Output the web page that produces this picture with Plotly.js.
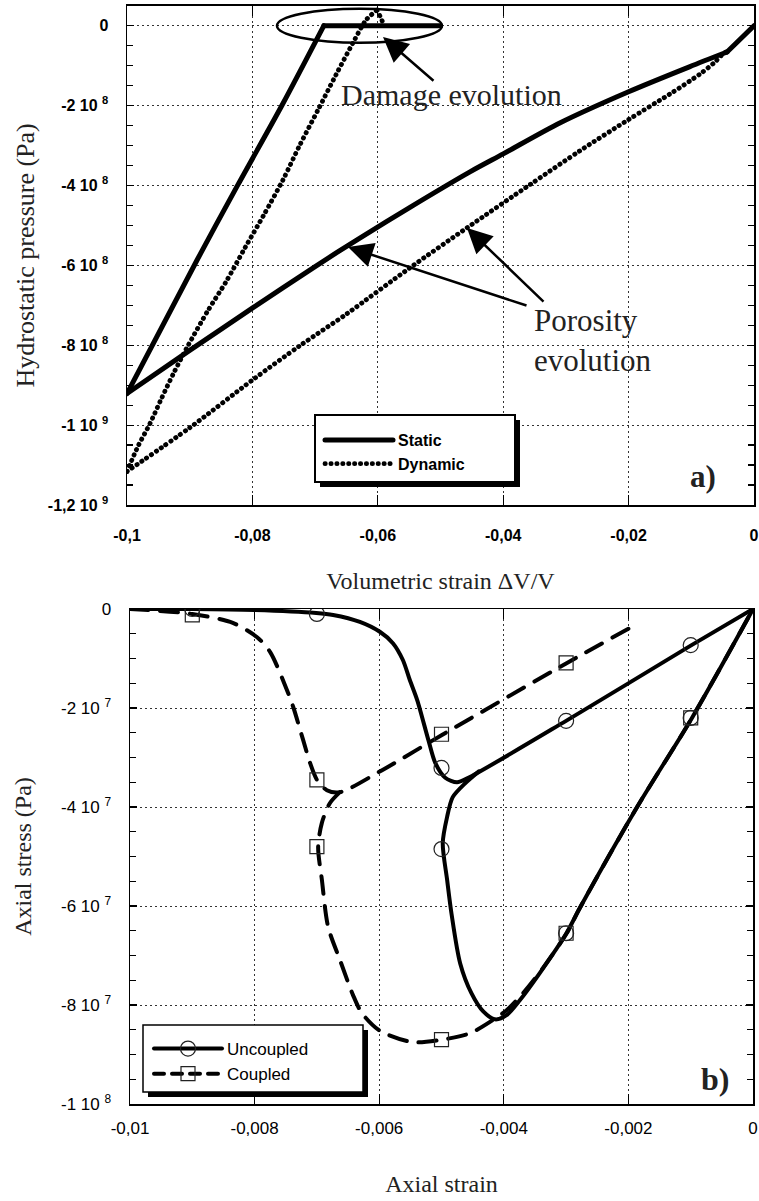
<!DOCTYPE html>
<html><head><meta charset="utf-8">
<script src="https://cdn.plot.ly/plotly-3.0.1.min.js"></script>
<style>
html,body{margin:0;padding:0;background:#fff}
path.js-line{stroke-linecap:round !important;stroke-linejoin:round !important}
</style>
</head><body><div id="chart" style="width:759px;height:1201px"></div>
<script>
// ---------- (a) hydrostatic pressure vs volumetric strain ----------
// null separates the branches of each path
const staticStrain   = [0, -0.0043, null,
                        -0.0043, -0.0103, -0.0201, -0.0309, -0.0400, -0.0453, -0.0550, -0.0628, -0.0700, -0.0799, -0.0900, -0.1000, null,
                        -0.1000, -0.0888, -0.0823, -0.0753, -0.0686, null,
                        -0.0686, -0.0500];
const staticPressure = [0, -0.66e8, null,
                        -0.66e8, -1.03e8, -1.66e8, -2.43e8, -3.21e8, -3.66e8, -4.56e8, -5.31e8, -6.03e8, -7.06e8, -8.13e8, -9.21e8, null,
                        -9.21e8, -5.86e8, -3.98e8, -2.00e8, 0, null,
                        0, 0];

const dynamicStrain   = [-0.0045, -0.00478, -0.00622, -0.00861, -0.0134, -0.0201, -0.02775, -0.03573, -0.04577, -0.05486, -0.06491, -0.07241, -0.0799, -0.08995, -0.1000, null,
                         -0.1000, -0.09825, -0.09633, -0.09458, -0.0925, -0.09027, -0.08708, -0.0842, -0.08118, -0.07815, -0.07512, -0.07241, -0.06954, -0.06667, -0.06396, -0.06188, -0.06013, null,
                         -0.06013, -0.0595, -0.0590];
const dynamicPressure = [-0.66e8, -0.68e8, -0.91e8, -1.21e8, -1.71e8, -2.36e8, -3.13e8, -3.98e8, -5.06e8, -6.06e8, -7.21e8, -8.01e8, -8.86e8, -1.006e9, -1.116e9, null,
                         -1.116e9, -1.053e9, -0.996e9, -0.936e9, -0.868e9, -0.801e9, -0.713e9, -0.641e9, -0.556e9, -0.473e9, -0.386e9, -0.298e9, -0.211e9, -0.123e9, -0.043e9, 0.014e9, 0.039e9, null,
                         0.039e9, 0.019e9, 0];

const strainTicks    = [-0.1, -0.08, -0.06, -0.04, -0.02, 0];
const strainTickText = ['-0,1', '-0,08', '-0,06', '-0,04', '-0,02', '0'];
const pressureTicks    = [0, -2e8, -4e8, -6e8, -8e8, -1e9, -1.2e9];
const pressureTickText = ['0', '-2 10 <sup>8</sup>', '-4 10 <sup>8</sup>', '-6 10 <sup>8</sup>', '-8 10 <sup>8</sup>', '-1 10 <sup>9</sup>', '-1,2 10 <sup>9</sup>'];

// ---------- (b) axial stress vs axial strain ----------
const uncoupledStrain = [-0.01, -0.009, -0.008, -0.00701, -0.00674, -0.00631, -0.00599, -0.00578, -0.00562, -0.00551, -0.00539, -0.00521, -0.0051, -0.00494, -0.00475, -0.00457, -0.003, -0.001, 0, null,
                         0, -0.00098, -0.00186, -0.00278, -0.00299, -0.00342, -0.00374, -0.00395, -0.00414, -0.00433, -0.00452, -0.0047, -0.00484, -0.00491, -0.00498, -0.00491, -0.00482, -0.00462, -0.0044];
const uncoupledStress = [0, 0, -2e5, -8e5, -1.2e6, -2.6e6, -4.6e6, -6.9e6, -1.03e7, -1.43e7, -1.84e7, -2.65e7, -3.11e7, -3.41e7, -3.5e7, -3.41e7, -2.26e7, -7.4e6, 0, null,
                         0, -2.2e7, -4.0e7, -6.04e7, -6.54e7, -7.35e7, -7.9e7, -8.2e7, -8.29e7, -8.13e7, -7.76e7, -7.16e7, -6.15e7, -5.47e7, -4.73e7, -4.2e7, -3.8e7, -3.52e7, -3.28e7];
const uncoupledMarkStrain = [-0.009, -0.007, -0.005, -0.003, -0.001, -0.005, -0.003, -0.001];
const uncoupledMarkStress = [0, -1.0e6, -3.21e7, -2.26e7, -7.3e6, -4.85e7, -6.55e7, -2.2e7];

const coupledStrain = [-0.01, -0.009, -0.00835, -0.00796, -0.00775, -0.00748, -0.00738, -0.00722, -0.00711, -0.007, -0.00684, -0.00663, -0.006, -0.005, -0.003, -0.002, null,
                       -0.00663, -0.00679, -0.00692, -0.00698, -0.00692, -0.00682, -0.00663, -0.00642, -0.00628, -0.00599, -0.00546, -0.00499, -0.00454, -0.00417, -0.00395, -0.00369, -0.00337, -0.00299, -0.00278, -0.00186, -0.00098, 0];
const coupledStress = [0, -1.0e6, -2.8e6, -5.7e6, -8.7e6, -1.64e7, -1.98e7, -2.65e7, -3.11e7, -3.45e7, -3.66e7, -3.7e7, -3.29e7, -2.55e7, -1.1e7, -4.0e6, null,
                       -3.7e7, -3.92e7, -4.32e7, -4.81e7, -5.47e7, -6.42e7, -7.09e7, -7.8e7, -8.16e7, -8.52e7, -8.75e7, -8.7e7, -8.57e7, -8.3e7, -8.1e7, -7.76e7, -7.25e7, -6.55e7, -6.04e7, -4.0e7, -2.2e7, 0];
const coupledMarkStrain = [-0.009, -0.007, -0.005, -0.003, -0.007, -0.005, -0.003, -0.001];
const coupledMarkStress = [-1.2e6, -3.45e7, -2.53e7, -1.09e7, -4.8e7, -8.7e7, -6.55e7, -2.2e7];

const axialTicks    = [-0.01, -0.008, -0.006, -0.004, -0.002, 0];
const axialTickText = ['-0,01', '-0,008', '-0,006', '-0,004', '-0,002', '0'];
const stressTicks    = [0, -2e7, -4e7, -6e7, -8e7, -1e8];
const stressTickText = ['0', '-2 10 <sup>7</sup>', '-4 10 <sup>7</sup>', '-6 10 <sup>7</sup>', '-8 10 <sup>7</sup>', '-1 10 <sup>8</sup>'];

// ---------- figure ----------
const W = 759, H = 1201;
const px = v => v / W;
const py = v => 1 - v / H;
const SANS = 'Liberation Sans, Arial, sans-serif';
const SERIF = 'Liberation Serif, Times New Roman, serif';

const traces = [
  {x: staticStrain, y: staticPressure, xaxis: 'x', yaxis: 'y', mode: 'lines', name: 'Static',
   line: {color: '#000', width: 5, shape: 'spline', smoothing: 0.8}, legend: 'legend'},
  {x: dynamicStrain, y: dynamicPressure, xaxis: 'x', yaxis: 'y', mode: 'lines', name: 'Dynamic',
   line: {color: '#000', width: 4.8, dash: '0.3px,5.6px', shape: 'spline', smoothing: 0.8}, legend: 'legend'},

  {x: coupledStrain, y: coupledStress, xaxis: 'x2', yaxis: 'y2', mode: 'lines', showlegend: false,
   line: {color: '#000', width: 4, dash: '18px,12px', shape: 'spline', smoothing: 0.8}},
  {x: uncoupledStrain, y: uncoupledStress, xaxis: 'x2', yaxis: 'y2', mode: 'lines', showlegend: false,
   line: {color: '#000', width: 4, shape: 'spline', smoothing: 0.8}},
  {x: uncoupledMarkStrain, y: uncoupledMarkStress, xaxis: 'x2', yaxis: 'y2', mode: 'markers', showlegend: false,
   marker: {symbol: 'circle-open', size: 15, color: '#222', line: {width: 1.2, color: '#222'}}},
  {x: coupledMarkStrain, y: coupledMarkStress, xaxis: 'x2', yaxis: 'y2', mode: 'markers', showlegend: false,
   marker: {symbol: 'square-open', size: 14, color: '#222', line: {width: 1.2, color: '#222'}}},
  // legend entries for (b)
  {x: [null], y: [null], xaxis: 'x2', yaxis: 'y2', mode: 'lines+markers', name: 'Uncoupled', legend: 'legend2',
   line: {color: '#000', width: 4}, marker: {symbol: 'circle-open', size: 15, color: '#222', line: {width: 1.2}}},
  {x: [null], y: [null], xaxis: 'x2', yaxis: 'y2', mode: 'lines+markers', name: 'Coupled', legend: 'legend2',
   line: {color: '#000', width: 4, dash: '10px,8px'}, marker: {symbol: 'square-open', size: 14, color: '#222', line: {width: 1.2}}}
];

const axisCommon = {
  showline: true, linecolor: '#000', linewidth: 1.5, mirror: 'ticks',
  ticks: 'inside', tickcolor: '#000', tickwidth: 1.2,
  showgrid: true, gridcolor: '#333', gridwidth: 1, griddash: '2px,3px',
  zeroline: false, tickmode: 'array', fixedrange: true
};

const layout = {
  width: W, height: H,
  margin: {l: 0, r: 0, t: 0, b: 0},
  paper_bgcolor: '#fff', plot_bgcolor: '#fff',
  showlegend: true,
  xaxis: Object.assign({}, axisCommon, {
    domain: [px(127), px(754)], anchor: 'y', range: [-0.1, 0],
    tickvals: strainTicks, ticktext: strainTickText, ticklen: 10, ticklabelstandoff: 15,
    tickfont: {family: SANS, size: 16, weight: 'bold', color: '#000'},
    title: {text: 'Volumetric strain \u0394V/V', font: {family: SERIF, size: 24, color: '#222'}, standoff: 29}
  }),
  yaxis: Object.assign({}, axisCommon, {
    domain: [py(505), py(5.7)], anchor: 'x', range: [-1.2e9, 0.5e8],
    tickvals: pressureTicks, ticktext: pressureTickText, ticklen: 7, ticklabelstandoff: 14,
    minor: {tickmode: 'linear', tick0: 0, dtick: 0.5e8, ticks: 'inside', ticklen: 6, tickcolor: '#000', showgrid: false},
    tickfont: {family: SANS, size: 16, weight: 'bold', color: '#000'},
    title: {text: 'Hydrostatic pressure (Pa)', font: {family: SERIF, size: 26, color: '#222'}, standoff: 5}
  }),
  xaxis2: Object.assign({}, axisCommon, {
    domain: [px(130), px(753)], anchor: 'y2', range: [-0.01, 0],
    tickvals: axialTicks, ticktext: axialTickText, ticklen: 10, ticklabelstandoff: 8,
    tickfont: {family: SANS, size: 17, color: '#000'},
    title: {text: 'Axial strain', font: {family: SERIF, size: 24, color: '#222'}, standoff: 38}
  }),
  yaxis2: Object.assign({}, axisCommon, {
    domain: [py(1104), py(609)], anchor: 'x2', range: [-1e8, 0],
    tickvals: stressTicks, ticktext: stressTickText, ticklen: 7, ticklabelstandoff: 14,
    minor: {tickmode: 'linear', tick0: 0, dtick: 0.5e7, ticks: 'inside', ticklen: 6, tickcolor: '#000', showgrid: false},
    tickfont: {family: SANS, size: 17, color: '#000'},
    title: {text: 'Axial stress (Pa)', font: {family: SERIF, size: 24, color: '#222'}, standoff: 22}
  }),
  legend: {
    x: px(320), y: py(423), xanchor: 'left', yanchor: 'top',
    bgcolor: 'rgba(0,0,0,0)', borderwidth: 0, itemwidth: 68, tracegroupgap: 0,
    font: {family: SANS, size: 16, weight: 'bold', color: '#000'}
  },
  legend2: {
    x: px(149), y: py(1031), xanchor: 'left', yanchor: 'top',
    bgcolor: 'rgba(0,0,0,0)', borderwidth: 0, itemwidth: 68, tracegroupgap: 0,
    font: {family: SANS, size: 17, color: '#000'}
  },
  shapes: [
    // damage ellipse
    {type: 'circle', xref: 'x', yref: 'y', x0: -0.07608, x1: -0.04976, y0: -0.425e8, y1: 0.425e8,
     line: {color: '#000', width: 2.5}, fillcolor: 'rgba(0,0,0,0)'},
    // legend (a) box + shadow
    {type: 'rect', xref: 'paper', yref: 'paper', x0: px(320), x1: px(520), y0: py(487), y1: py(420),
     fillcolor: '#000', line: {width: 0}, layer: 'above'},
    {type: 'rect', xref: 'paper', yref: 'paper', x0: px(315), x1: px(515), y0: py(482), y1: py(415),
     fillcolor: '#fff', line: {color: '#000', width: 2}, layer: 'above'},
    // legend (b) box + shadow
    {type: 'rect', xref: 'paper', yref: 'paper', x0: px(148), x1: px(368), y0: py(1097), y1: py(1030),
     fillcolor: '#000', line: {width: 0}, layer: 'above'},
    {type: 'rect', xref: 'paper', yref: 'paper', x0: px(143), x1: px(363), y0: py(1092), y1: py(1025),
     fillcolor: '#fff', line: {color: '#000', width: 1.5}, layer: 'above'}
  ],
  annotations: [
    {xref: 'paper', yref: 'paper', x: px(451), y: py(95), text: 'Damage evolution', showarrow: false,
     xanchor: 'center', yanchor: 'middle', font: {family: SERIF, size: 30, color: '#222'}},
    {xref: 'paper', yref: 'paper', x: px(383), y: py(37), text: '', showarrow: true, ax: 52, ay: 45,
     arrowhead: 2, arrowsize: 2, arrowwidth: 2.5, arrowcolor: '#000'},
    {xref: 'paper', yref: 'paper', x: px(532), y: py(340), text: 'Porosity<br>evolution', showarrow: false,
     xanchor: 'left', yanchor: 'middle', align: 'left', font: {family: SERIF, size: 31, color: '#222'}},
    {xref: 'paper', yref: 'paper', x: px(348), y: py(247), text: '', showarrow: true, ax: 180, ay: 59,
     arrowhead: 2, arrowsize: 2, arrowwidth: 2.5, arrowcolor: '#000'},
    {xref: 'paper', yref: 'paper', x: px(467), y: py(228), text: '', showarrow: true, ax: 78, ay: 75,
     arrowhead: 2, arrowsize: 2, arrowwidth: 2.5, arrowcolor: '#000'},
    {xref: 'paper', yref: 'paper', x: px(718), y: py(477), text: '<b>a)</b>', showarrow: false,
     xanchor: 'right', yanchor: 'middle', font: {family: SERIF, size: 31, color: '#222'}},
    {xref: 'paper', yref: 'paper', x: px(731), y: py(1079), text: '<b>b)</b>', showarrow: false,
     xanchor: 'right', yanchor: 'middle', font: {family: SERIF, size: 32, color: '#222'}}
  ]
};

Plotly.newPlot('chart', traces, layout, {displayModeBar: false, staticPlot: true}).then(gd => {
  gd.querySelectorAll('path.js-line').forEach(p => {
    p.style.strokeLinecap = 'round';
    p.style.strokeLinejoin = 'round';
  });
});
</script>
</body></html>
